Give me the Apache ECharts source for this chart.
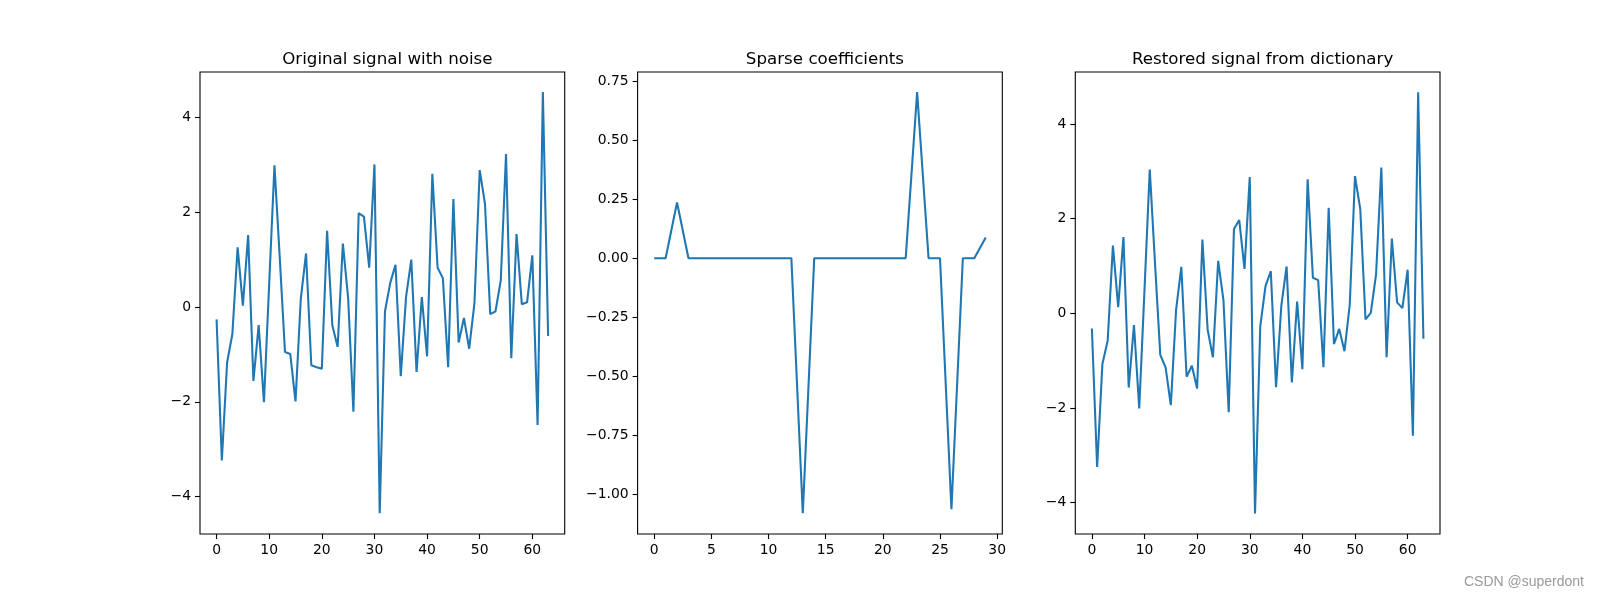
<!DOCTYPE html>
<html>
<head>
<meta charset="utf-8">
<script src="https://cdn.jsdelivr.net/npm/echarts@6/dist/echarts.min.js"></script>
<style>
html,body{margin:0;padding:0;background:#fff;}
#c{width:1600px;height:600px;}
</style>
</head>
<body>
<div id="c"></div>
<script>
// ---- data ----
const titles = ["Original signal with noise", "Sparse coefficients", "Restored signal from dictionary"];
const noisySignal = [-0.26,-3.24,-1.17,-0.57,1.26,0.03,1.52,-1.56,-0.38,-2.01,
  0.5,2.99,1.05,-0.95,-0.99,-1.99,0.17,1.13,-1.23,-1.27,
  -1.30,1.61,-0.39,-0.84,1.34,0.19,-2.21,1.98,1.91,0.83,
  3.01,-4.35,-0.09,0.51,0.89,-1.46,0.21,1.00,-1.37,0.21,
  -1.04,2.81,0.83,0.61,-1.27,2.28,-0.75,-0.23,-0.88,0.08,
  2.89,2.18,-0.15,-0.09,0.56,3.23,-1.08,1.54,0.06,0.10,
  1.09,-2.49,4.54,-0.61];
const sparseCoefs = [0,0,0.236,0,0,0,0,0,0,0,
  0,0,0,-1.081,0,0,0,0,0,0,
  0,0,0,0.704,0,0,-1.064,0,0,0.088];
const restoredSignal = [-0.32,-3.25,-1.07,-0.58,1.43,0.13,1.61,-1.57,-0.25,-2.01,
  0.5,3.04,1.05,-0.88,-1.14,-1.94,0.07,0.98,-1.34,-1.11,
  -1.59,1.56,-0.35,-0.93,1.11,0.28,-2.09,1.78,1.97,0.94,
  2.88,-4.23,-0.27,0.58,0.89,-1.56,0.16,0.99,-1.46,0.25,
  -1.18,2.83,0.75,0.70,-1.14,2.23,-0.65,-0.33,-0.80,0.18,
  2.90,2.20,-0.13,0.01,0.82,3.08,-0.93,1.58,0.23,0.11,
  0.92,-2.59,4.67,-0.54];
const xTicks1 = [0,10,20,30,40,50,60];
const xTicks2 = [0,5,10,15,20,25,30];
const yTicks1 = [-4,-2,0,2,4];
const yTicks2 = [-1.00,-0.75,-0.50,-0.25,0.00,0.25,0.50,0.75];
const yTicks3 = [-4,-2,0,2,4];

// ---- layout ----
const font = "DejaVu Sans";
const grids = [
  {left:200, width:364.7},
  {left:637.6, width:364.7},
  {left:1075.3, width:364.7}
];
const xRanges = [[-3.15,66.15],[-1.45,30.45],[-3.15,66.15]];
const yRanges = [[-4.79,4.96],[-1.169,0.789],[-4.665,5.10]];
const xTickSets = [xTicks1, xTicks2, xTicks1];
const yTickSets = [yTicks1, yTicks2, yTicks3];
const yDecimals = [0,2,0];
const seriesData = [noisySignal, sparseCoefs, restoredSignal];

function fmt(v, d){
  let s = Number(v).toFixed(d);
  if (Number(s) === 0) s = (0).toFixed(d);
  return s.replace('-', '\u2212');
}

const option = {
  backgroundColor:'#fff',
  animation:false,
  title: titles.map((t,i)=>({
    text:t,
    left: grids[i].left + grids[i].width/2,
    textAlign:'center',
    top:46,
    textStyle:{fontFamily:font,fontSize:16.7,fontWeight:'normal',color:'#000'}
  })),
  grid: grids.map(g=>({left:g.left,width:g.width,top:72,height:462,show:true,borderColor:'#000',borderWidth:1.1,backgroundColor:'transparent'})),
  xAxis: grids.map((g,i)=>({
    type:'value', gridIndex:i, min:xRanges[i][0], max:xRanges[i][1], position:'bottom',
    axisLine:{show:false,onZero:false}, splitLine:{show:false},
    axisTick:{show:true,inside:false,length:5,customValues:xTickSets[i],lineStyle:{color:'#000',width:1.1}},
    axisLabel:{customValues:xTickSets[i],margin:9,fontFamily:font,fontSize:13.9,color:'#000',
      formatter:v=>fmt(v,0)}
  })),
  yAxis: grids.map((g,i)=>({
    type:'value', gridIndex:i, min:yRanges[i][0], max:yRanges[i][1], position:'left',
    axisLine:{show:false,onZero:false}, splitLine:{show:false},
    axisTick:{show:true,inside:false,length:5,customValues:yTickSets[i],lineStyle:{color:'#000',width:1.1}},
    axisLabel:{customValues:yTickSets[i],margin:9,fontFamily:font,fontSize:13.9,color:'#000',
      formatter:(v)=>fmt(v,yDecimals[i])}
  })),
  series: seriesData.map((arr,i)=>({
    type:'line', xAxisIndex:i, yAxisIndex:i,
    data: arr.map((v,k)=>[k,v]),
    showSymbol:false, symbol:'none',
    lineStyle:{color:'#1f77b4',width:2.08},
    itemStyle:{color:'#1f77b4'}
  })),
  graphic:[{
    type:'text', right:16, top:575,
    style:{text:'CSDN @superdont',fontFamily:'Liberation Sans',fontSize:14,fill:'#999'}
  }]
};
const chart = echarts.init(document.getElementById('c'), null, {renderer:'canvas'});
chart.setOption(option);
</script>
</body>
</html>
